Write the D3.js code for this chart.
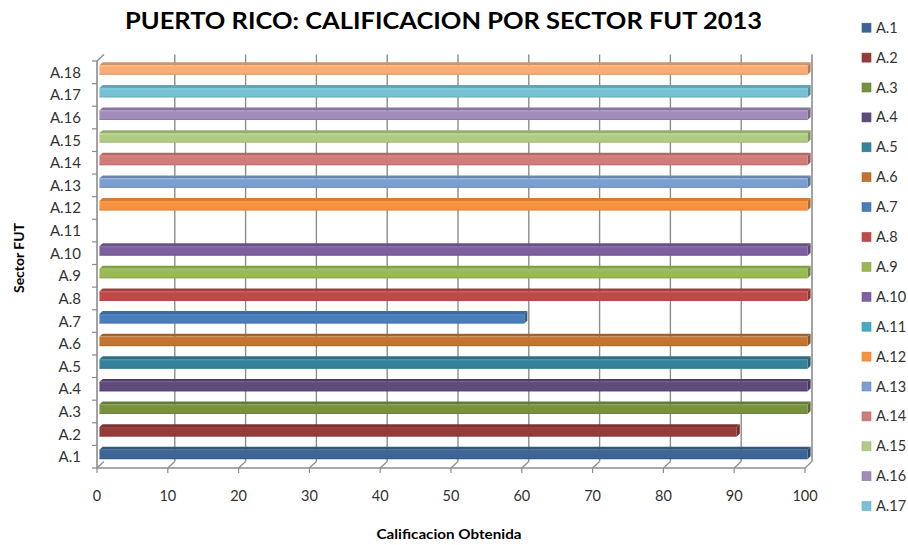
<!DOCTYPE html>
<html>
<head>
<meta charset="utf-8">
<script src="https://cdn.jsdelivr.net/npm/d3@7/dist/d3.min.js"></script>
<style>
  html, body { margin: 0; padding: 0; background: #ffffff; }
  svg { display: block; }
  text { font-family: Lato, "Liberation Sans", sans-serif; fill: #333333; }
</style>
</head>
<body>
<svg id="chart" width="908" height="545"></svg>
<script>
// ---- data ----
const categories = ["A.1","A.2","A.3","A.4","A.5","A.6","A.7","A.8","A.9","A.10","A.11","A.12","A.13","A.14","A.15","A.16","A.17","A.18"];
const values = [100, 90, 100, 100, 100, 100, 60, 100, 100, 100, 0, 100, 100, 100, 100, 100, 100, 100];
const legendShown = ["A.1","A.2","A.3","A.4","A.5","A.6","A.7","A.8","A.9","A.10","A.11","A.12","A.13","A.14","A.15","A.16","A.17"];
const xTickValues = [0, 10, 20, 30, 40, 50, 60, 70, 80, 90, 100];
const titleText = "PUERTO RICO: CALIFICACION POR SECTOR FUT 2013";
const xTitle = "Calificacion Obtenida";
const yTitle = "Sector FUT";

// ---- palette (Excel 2007 style: dark, base, light) ----
const palette = [
  "#3c6494","#943c3a","#77913f","#5f4a7c","#378299","#c27433",
  "#4a7ebb","#be4b48","#98b954","#7d60a0","#46aac5","#f69240",
  "#7b9fd0","#d07c7a","#b1cb84","#a08bb9","#78c0d4","#f9ac76"
];

const svg = d3.select("#chart");

// front plane geometry
const x = d3.scaleLinear().domain([0, 100]).range([97, 805]);
const y = d3.scaleBand().domain(categories).range([468, 61]).paddingInner(0).paddingOuter(0);
const DX = 7, DY = -6.5; // depth vector front -> back
function pt(v, yy, z) { return [x(v) + z * DX, yy + z * DY]; }

const grid = svg.append("g");
const gridColor = "#8c8c8c";
const yTop = 61, yBot = 468;

// back wall gridlines (0 hidden behind left wall)
xTickValues.forEach(t => {
  if (t === 0) return;
  const a = pt(t, yTop, 1), b = pt(t, yBot, 1), c = pt(t, yBot, 0);
  grid.append("line").attr("x1", a[0]).attr("y1", a[1]).attr("x2", b[0]).attr("y2", b[1])
    .attr("stroke", gridColor).attr("stroke-width", t === 100 ? 1.6 : 1.4);
  grid.append("line").attr("x1", b[0]).attr("y1", b[1]).attr("x2", c[0]).attr("y2", c[1])
    .attr("stroke", gridColor).attr("stroke-width", 1.2);
});
// floor front edge
grid.append("line").attr("x1", x(0)).attr("y1", yBot).attr("x2", x(100)).attr("y2", yBot)
  .attr("stroke", gridColor).attr("stroke-width", 1.4);
{
  const b = pt(0, yBot, 1);
  grid.append("line").attr("x1", b[0]).attr("y1", b[1]).attr("x2", x(0)).attr("y2", yBot)
    .attr("stroke", gridColor).attr("stroke-width", 1.2);
}
// left wall front edge + top diagonal
grid.append("line").attr("x1", x(0)).attr("y1", yTop).attr("x2", x(0)).attr("y2", yBot)
  .attr("stroke", gridColor).attr("stroke-width", 1.6);
{
  const a = pt(0, yTop, 1);
  grid.append("line").attr("x1", x(0)).attr("y1", yTop).attr("x2", a[0]).attr("y2", a[1])
    .attr("stroke", gridColor).attr("stroke-width", 1.4);
}
// y ticks (category boundaries)
categories.forEach(c => {
  const yy = y(c);
  grid.append("line").attr("x1", x(0) - 5).attr("y1", yy).attr("x2", x(0)).attr("y2", yy)
    .attr("stroke", gridColor).attr("stroke-width", 1.2);
});
grid.append("line").attr("x1", x(0) - 5).attr("y1", yBot).attr("x2", x(0)).attr("y2", yBot)
  .attr("stroke", gridColor).attr("stroke-width", 1.2);
// x ticks
xTickValues.forEach(t => {
  grid.append("line").attr("x1", x(t)).attr("y1", yBot).attr("x2", x(t)).attr("y2", yBot + 5)
    .attr("stroke", gridColor).attr("stroke-width", 1.2);
});

// ---- bars ----
const zF = 0.35, zB = 0.8, barH = 9.5;
const bars = svg.append("g");
categories.forEach((c, i) => {
  const v = values[i];
  if (v <= 0) return;
  const col = d3.color(palette[i]);
  const cy = y(c) + y.bandwidth() / 2;
  const f0 = pt(0, cy - barH / 2, zF), f1 = pt(v, cy - barH / 2, zF);
  const fb1 = pt(v, cy + barH / 2, zF);
  const b0 = pt(0, cy - barH / 2, zB), b1 = pt(v, cy - barH / 2, zB);
  const bb1 = pt(v, cy + barH / 2, zB);
  bars.append("polygon").attr("points", [f0, f1, b1, b0].map(p => p.join(",")).join(" "))
    .attr("fill", col.darker(0.45));
  bars.append("polygon").attr("points", [f1, b1, bb1, fb1].map(p => p.join(",")).join(" "))
    .attr("fill", col.darker(0.9));
  bars.append("rect").attr("x", f0[0]).attr("y", f0[1]).attr("width", f1[0] - f0[0]).attr("height", barH)
    .attr("fill", col.formatHex());
  bars.append("line").attr("x1", f0[0]).attr("x2", f1[0]).attr("y1", f0[1] + barH - 0.5).attr("y2", f0[1] + barH - 0.5)
    .attr("stroke", col.darker(0.5)).attr("stroke-width", 1).attr("opacity", 0.6);
  bars.append("line").attr("x1", f0[0]).attr("x2", f1[0]).attr("y1", f0[1] + 1.2).attr("y2", f0[1] + 1.2)
    .attr("stroke", col.brighter(0.35)).attr("stroke-width", 1).attr("opacity", 0.6);
});

// ---- labels ----
const labels = svg.append("g");
categories.forEach(c => {
  labels.append("text").attr("x", 81).attr("y", y(c) + y.bandwidth() / 2 + 5.5)
    .attr("text-anchor", "end").attr("font-size", 15).text(c);
});
xTickValues.forEach(t => {
  labels.append("text").attr("x", x(t)).attr("y", 501)
    .attr("text-anchor", "middle").attr("font-size", 14.5).text(t);
});

// axis titles
svg.append("text").attr("x", 449).attr("y", 539).attr("text-anchor", "middle")
  .attr("font-size", 14).attr("font-weight", 700).style("fill", "#000")
  .attr("textLength", 145).attr("lengthAdjust", "spacingAndGlyphs").text(xTitle);
svg.append("text").attr("transform", "translate(24,258) rotate(-90)").attr("text-anchor", "middle")
  .attr("font-size", 14).attr("font-weight", 700).style("fill", "#000")
  .attr("textLength", 70).attr("lengthAdjust", "spacingAndGlyphs").text(yTitle);

// title
svg.append("text").attr("x", 125).attr("y", 29)
  .attr("font-size", 23).attr("font-weight", 700).style("fill", "#000")
  .attr("textLength", 637).attr("lengthAdjust", "spacingAndGlyphs").text(titleText);

// ---- legend ----
const lg = svg.append("g");
legendShown.forEach((c, i) => {
  const idx = categories.indexOf(c);
  const cy = 27.7 + i * 29.9;
  lg.append("rect").attr("x", 862).attr("y", cy - 4.5).attr("width", 9).attr("height", 9)
    .attr("fill", palette[idx]).attr("stroke", d3.color(palette[idx]).darker(0.3)).attr("stroke-width", 0.6);
  lg.append("text").attr("x", 876).attr("y", cy + 5).attr("font-size", 14.5).text(c);
});
</script>
</body>
</html>
